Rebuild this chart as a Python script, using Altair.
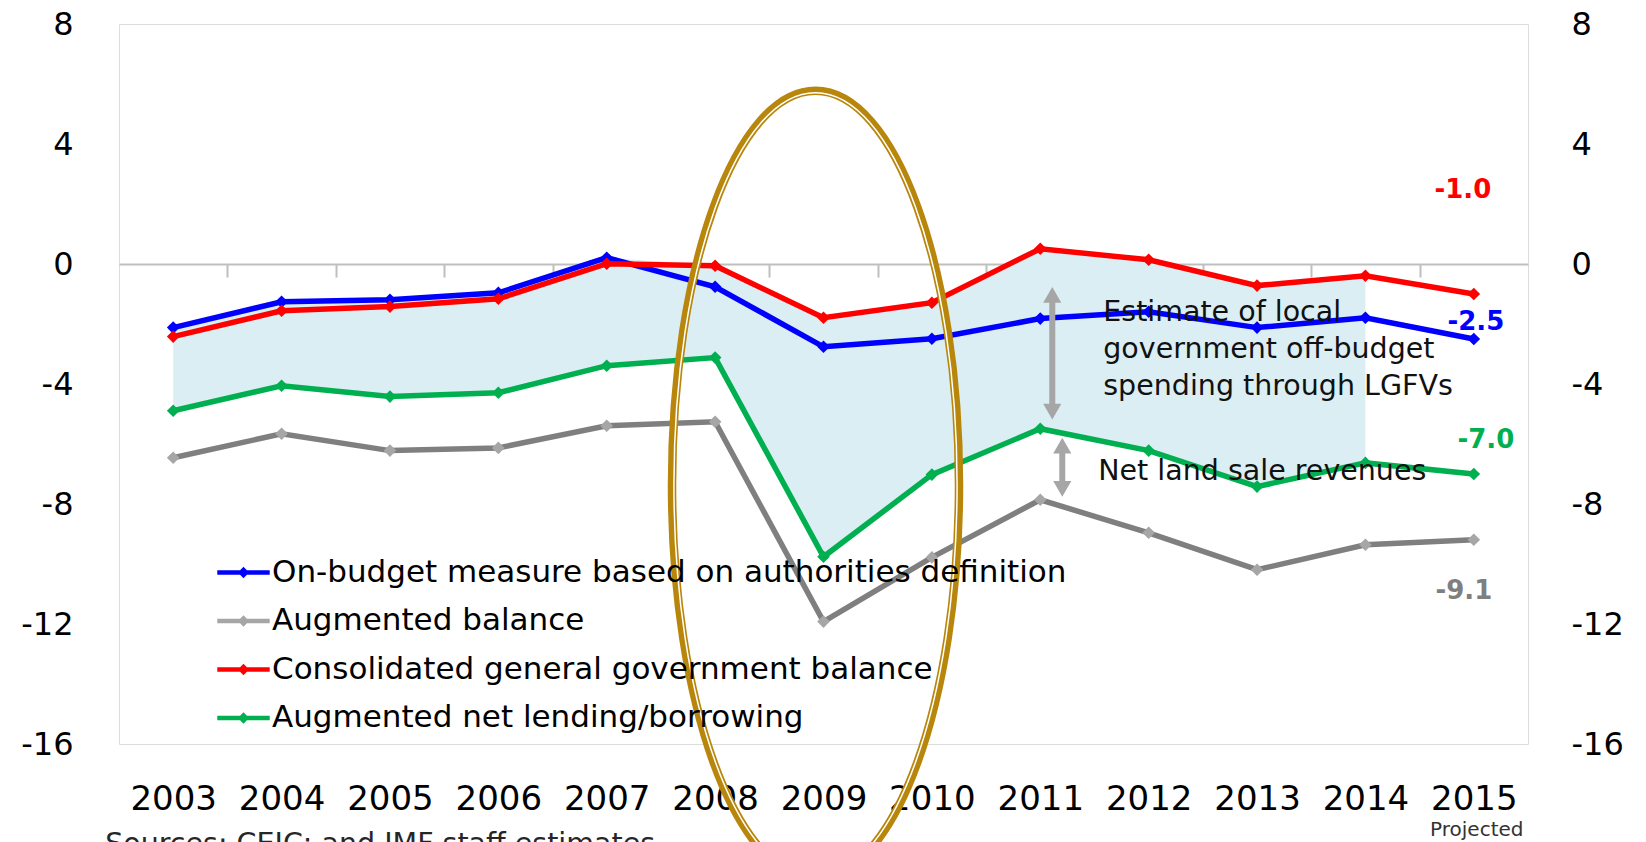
import altair as alt
import pandas as pd

# ---------------- data ----------------
years = list(range(2003, 2016))
series_names = [
    "On-budget measure based on authorities definition",
    "Augmented balance",
    "Consolidated general government balance",
    "Augmented net lending/borrowing",
]
on_budget = [-2.12, -1.26, -1.19, -0.96, 0.21, -0.76, -2.76, -2.49, -1.82, -1.59, -2.12, -1.79, -2.50]
aug_balance = [-6.46, -5.66, -6.22, -6.13, -5.39, -5.26, -11.92, -9.78, -7.86, -8.96, -10.19, -9.36, -9.19]
consolidated = [-2.42, -1.56, -1.42, -1.16, 0.01, -0.06, -1.79, -1.29, 0.51, 0.14, -0.72, -0.39, -1.00]
aug_net_lending = [-4.89, -4.06, -4.42, -4.29, -3.39, -3.12, -9.76, -7.02, -5.49, -6.22, -7.42, -6.63, -7.00]
series_values = [on_budget, aug_balance, consolidated, aug_net_lending]

line_colors = ["#0000FF", "#7F7F7F", "#FF0000", "#00B050"]
marker_colors = ["#0000FF", "#A6A6A6", "#FF0000", "#00B050"]
draw_order = [1, 3, 0, 2]  # gray, green, blue, red

end_labels = ["-2.5", "-9.1", "-1.0", "-7.0"]
end_label_dx = [2, -10, -11, 12]
end_label_dy = [-17, 51, -104, -34]

shade_years = years[:-1]  # 2003..2014
y_tick_values = [-16, -12, -8, -4, 0, 4, 8]
x_boundaries = [y + 0.5 for y in years[:-1]]

annot_text = ["Estimate of local", "government off-budget", "spending through LGFVs"]
annot_year = 2011
annot_value = -1.59
land_text = "Net land sale revenues"
land_value = -6.89
arrow1 = (-0.76, -5.19)
arrow2 = (-5.79, -7.76)
ellipse_year = 2009
ellipse_value = -7.36
source_text = "Sources: CEIC; and IMF staff estimates."
projected_text = "Projected"

FONT = "DejaVu Sans"
W, H = 1409, 720

# ---------------- tables ----------------
rows = []
for i, name in enumerate(series_names):
    for yr, v in zip(years, series_values[i]):
        rows.append({"year": yr, "value": v, "series": name})
df = pd.DataFrame(rows)

area_df = pd.DataFrame({
    "year": shade_years,
    "top": [max(a, b) for a, b in zip(on_budget[:-1], consolidated[:-1])],
    "bottom": aug_net_lending[:-1],
})

x_scale = alt.Scale(domain=[2002.5, 2015.5], nice=False, zero=False)
y_scale = alt.Scale(domain=[-16, 8], nice=False, zero=False)

zero_axis = alt.Axis(orient="bottom", offset=-480, values=x_boundaries, labels=False,
                     ticks=True, tickSize=13, tickColor="#BFBFBF", tickWidth=2,
                     domain=True, domainColor="#BFBFBF", domainWidth=2, grid=False, title=None)
label_axis = alt.Axis(orient="bottom", values=years, format="d", labels=True, ticks=False,
                      domain=False, grid=False, title=None, labelFontSize=34, labelFont=FONT,
                      labelColor="#000000", labelPadding=38, labelFlush=False, labelOverlap=False)
left_axis = alt.Axis(orient="left", values=y_tick_values, ticks=False, domain=False, grid=False,
                     title=None, labelFontSize=32, labelFont=FONT, labelColor="#000000",
                     labelPadding=46, labelExpr="'' + datum.value")
right_axis = alt.Axis(orient="right", values=y_tick_values, ticks=False, domain=False, grid=False,
                      title=None, labelFontSize=32, labelFont=FONT, labelColor="#000000",
                      labelPadding=43, labelExpr="'' + datum.value")

legend_symbol = ("M-1,-0.09L-0.13,-0.09L0,-0.22L0.13,-0.09L1,-0.09L1,0.09L0.13,0.09"
                 "L0,0.22L-0.13,0.09L-1,0.09Z")
legend = alt.Legend(orient="none", legendX=98, legendY=522, title=None, symbolType=legend_symbol,
                    symbolSize=2750, symbolStrokeWidth=0, labelFontSize=31, labelFont=FONT,
                    labelColor="#000000", labelLimit=0, rowPadding=6.5, labelOffset=2, padding=0)

layers = []

# shaded area (carries zero-line axis + left axis)
layers.append(
    alt.Chart(area_df).mark_area(color="#DAEEF3", opacity=1).encode(
        x=alt.X("year:Q", scale=x_scale, axis=zero_axis),
        y=alt.Y("top:Q", scale=y_scale, axis=left_axis),
        y2="bottom:Q",
    )
)

first = True
for idx in draw_order:
    sdf = df[df["series"] == series_names[idx]]
    xa = label_axis if first else None
    ya = right_axis if first else None
    first = False
    layers.append(
        alt.Chart(sdf).mark_line(color=line_colors[idx], strokeWidth=5.5).encode(
            x=alt.X("year:Q", scale=x_scale, axis=xa),
            y=alt.Y("value:Q", scale=y_scale, axis=ya),
        )
    )
    layers.append(
        alt.Chart(sdf).mark_point(shape="diamond", filled=True, size=160, opacity=1).encode(
            x=alt.X("year:Q", scale=x_scale, axis=None),
            y=alt.Y("value:Q", scale=y_scale, axis=None),
            fill=alt.Fill("series:N", scale=alt.Scale(domain=series_names, range=marker_colors),
                          legend=legend),
        )
    )

# end labels
for idx in range(4):
    ldf = pd.DataFrame({"year": [years[-1]], "value": [series_values[idx][-1]], "t": [end_labels[idx]]})
    layers.append(
        alt.Chart(ldf).mark_text(fontSize=26, fontWeight="bold", font=FONT, color=line_colors[idx],
                                 dx=end_label_dx[idx], dy=end_label_dy[idx], align="center",
                                 baseline="middle").encode(
            x=alt.X("year:Q", scale=x_scale, axis=None),
            y=alt.Y("value:Q", scale=y_scale, axis=None),
            text="t:N",
        )
    )

# arrows
arrow_df = pd.DataFrame({
    "year": [annot_year, annot_year],
    "y1": [arrow1[0], arrow2[0]],
    "y2": [arrow1[1], arrow2[1]],
    "off": [12, 22],
})
for k in range(2):
    adf = arrow_df.iloc[[k]]
    off = int(adf["off"].iloc[0])
    layers.append(
        alt.Chart(adf).mark_rule(color="#A6A6A6", strokeWidth=6, xOffset=off, y2Offset=-8, yOffset=8).encode(
            x=alt.X("year:Q", scale=x_scale, axis=None),
            y=alt.Y("y1:Q", scale=y_scale, axis=None),
            y2="y2:Q",
        )
    )
    layers.append(
        alt.Chart(adf).mark_point(shape="triangle-up", filled=True, size=330, color="#A6A6A6",
                                  opacity=1, xOffset=off, yOffset=8).encode(
            x=alt.X("year:Q", scale=x_scale, axis=None),
            y=alt.Y("y1:Q", scale=y_scale, axis=None),
        )
    )
    layers.append(
        alt.Chart(adf).mark_point(shape="triangle-down", filled=True, size=330, color="#A6A6A6",
                                  opacity=1, xOffset=off, yOffset=-8).encode(
            x=alt.X("year:Q", scale=x_scale, axis=None),
            y=alt.Y("y2:Q", scale=y_scale, axis=None),
        )
    )

# annotation texts
ann_df = pd.DataFrame({"year": [annot_year], "value": [annot_value], "t": [annot_text]})
layers.append(
    alt.Chart(ann_df).mark_text(fontSize=28.5, font=FONT, color="#111111", align="left",
                                baseline="middle", dx=63, lineHeight=37).encode(
        x=alt.X("year:Q", scale=x_scale, axis=None),
        y=alt.Y("value:Q", scale=y_scale, axis=None),
        text="t",
    )
)
land_df = pd.DataFrame({"year": [annot_year], "value": [land_value], "t": [land_text]})
layers.append(
    alt.Chart(land_df).mark_text(fontSize=28.5, font=FONT, color="#111111", align="left",
                                 baseline="middle", dx=58).encode(
        x=alt.X("year:Q", scale=x_scale, axis=None),
        y=alt.Y("value:Q", scale=y_scale, axis=None),
        text="t:N",
    )
)

# "Projected" under 2015
proj_df = pd.DataFrame({"year": [years[-1]], "value": [y_tick_values[0]], "t": [projected_text]})
layers.append(
    alt.Chart(proj_df).mark_text(fontSize=20, font=FONT, color="#333333", align="center",
                                 baseline="middle", dy=86, dx=3).encode(
        x=alt.X("year:Q", scale=x_scale, axis=None),
        y=alt.Y("value:Q", scale=y_scale, axis=None),
        text="t:N",
    )
)

# source note (bottom-left, partly cut off as in the original)
src_df = pd.DataFrame({"year": [years[0]], "value": [y_tick_values[0]], "t": [source_text]})
layers.append(
    alt.Chart(src_df).mark_text(fontSize=28.5, font=FONT, color="#262626", align="left",
                                baseline="top", dy=86, dx=-68).encode(
        x=alt.X("year:Q", scale=x_scale, axis=None),
        y=alt.Y("value:Q", scale=y_scale, axis=None),
        text="t:N",
    )
)


# highlight ellipse around 2009 (double line: thick outer gold, white gap, thin inner gold)
def ellipse_path(rx, ry):
    a = rx / ry
    kk = 0.5523
    ak = a * kk
    return (f"M0,-1C{ak:.4f},-1 {a:.4f},-{kk} {a:.4f},0C{a:.4f},{kk} {ak:.4f},1 0,1"
            f"C-{ak:.4f},1 -{a:.4f},{kk} -{a:.4f},0C-{a:.4f},-{kk} -{ak:.4f},-1 0,-1Z")


ell_df = pd.DataFrame({"year": [ellipse_year], "value": [ellipse_value]})
RX, RY = 143.5, 394.0
for inset, sw, col in [(0.0, 8.5, "#B8860B"), (1.9, 1.5, "#FFFFFF")]:
    rx, ry = RX - inset, RY - inset
    layers.append(
        alt.Chart(ell_df).mark_point(shape=ellipse_path(rx, ry), size=(2 * ry) ** 2, filled=False,
                                     stroke=col, strokeWidth=sw, opacity=1, xOffset=-8).encode(
            x=alt.X("year:Q", scale=x_scale, axis=None),
            y=alt.Y("value:Q", scale=y_scale, axis=None),
        )
    )

chart = alt.layer(*layers).resolve_axis(x="independent", y="independent").properties(
    width=W, height=H,
    autosize=alt.AutoSizeParams(type="none"),
    padding={"left": 119, "top": 24, "right": 118, "bottom": 98},
).configure_view(stroke="#BFBFBF", strokeWidth=2).configure(background="white")

chart.save("out.html", embed_options={"renderer": "svg", "actions": False})
